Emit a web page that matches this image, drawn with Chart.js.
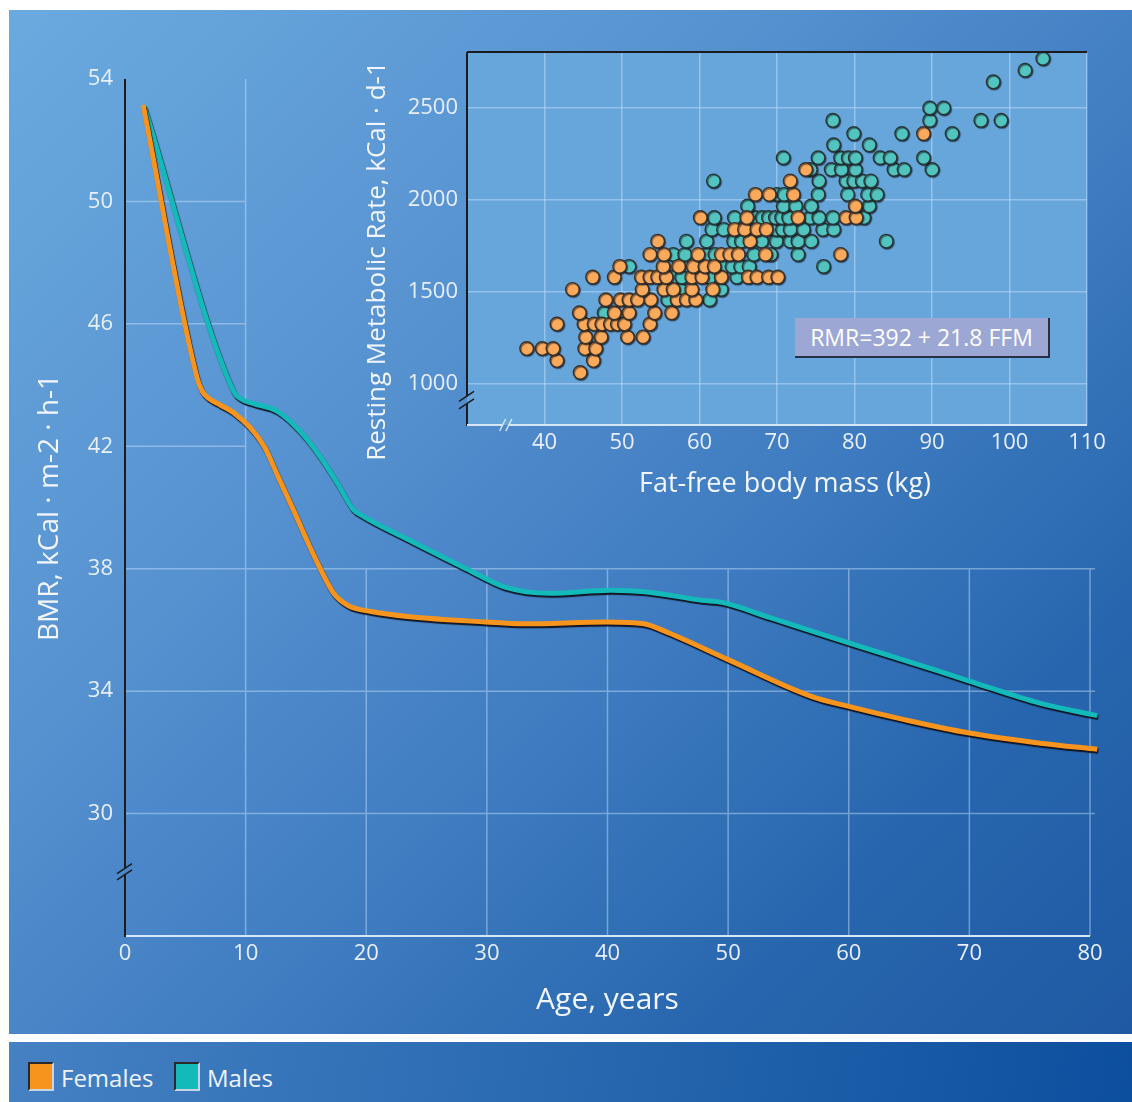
<!DOCTYPE html>
<html>
<head>
<meta charset="utf-8">
<script src="https://cdn.jsdelivr.net/npm/chart.js@4.4.1/dist/chart.umd.min.js"></script>
<style>
  html, body { margin: 0; padding: 0; background: #fff; }
  body { width: 1132px; height: 1102px; position: relative; overflow: hidden; font-family: "Open Sans", sans-serif; }
  #panel { position: absolute; left: 9px; top: 10px; width: 1123px; height: 1024px;
    background: linear-gradient(135deg, #6aaadf 0%, #5893d1 33%, #3d7abf 60%, #2766ae 80%, #1f59a3 100%); }
  #main { position: absolute; left: 0; top: 0; }
  #inset { position: absolute; left: 351px; top: 19px; }
  #formula { position: absolute; left: 786px; top: 308px; width: 253px; height: 38px; background: #9ca7d4;
    border-right: 2px solid #2b2f45; border-bottom: 2px solid #2b2f45; color: #fff; font-size: 23px;
    line-height: 38px; text-align: center; }
  #legend { position: absolute; left: 9px; top: 1042px; width: 1123px; height: 60px;
    background: linear-gradient(100deg, #4581c3 0%, #2b6bb2 45%, #0c4f9e 100%); }
  .key { position: absolute; top: 20px; width: 22px; height: 25px; border: 2px solid; border-color: #2a2a2a #c8d4e4 #c8d4e4 #2a2a2a; }
  .lab { position: absolute; top: 20px; font-size: 24px; line-height: 32px; color: #eef3fa; }
</style>
</head>
<body>
<div id="panel">
  <canvas id="main" width="1123" height="1024"></canvas>
  <canvas id="inset" width="772" height="481"></canvas>
  <div id="formula">RMR=392 + 21.8 FFM</div>
</div>
<div id="legend">
  <div class="key" style="left:19px;background:#f7941d"></div><div class="lab" style="left:52px">Females</div>
  <div class="key" style="left:165px;background:#14b9b9"></div><div class="lab" style="left:198px">Males</div>
</div>
<script>
// main chart: BMR by age
const ageTicks = [0, 10, 20, 30, 40, 50, 60, 70, 80];
const bmrTicks = [30, 34, 38, 42, 46, 50, 54];
const femaleAge = [1.5, 6.0, 6.4, 7.0, 7.9, 9.0, 10.4, 11.6, 12.7, 14.1, 15.7, 17.3, 18.5, 20.4, 23.6, 29.9, 33.0, 40.0, 43.0, 45.1, 50.0, 56.9, 60.0, 64.7, 70.0, 75.9, 80.6];
const femaleBmr = [53.15, 44.2, 43.8, 43.55, 43.35, 43.1, 42.6, 41.95, 41.0, 39.8, 38.4, 37.2, 36.8, 36.6, 36.43, 36.26, 36.2, 36.26, 36.2, 35.9, 35.03, 33.83, 33.5, 33.06, 32.63, 32.3, 32.1];
const maleAge = [1.6, 9.0, 9.6, 10.6, 12.6, 14.5, 16.2, 17.6, 18.9, 19.8, 23.6, 28.3, 31.5, 35.2, 40.3, 43.1, 47.8, 49.5, 53.5, 60.0, 64.7, 70.0, 75.9, 80.6];
const maleBmr = [53.1, 43.8, 43.55, 43.4, 43.15, 42.5, 41.65, 40.8, 39.95, 39.7, 38.93, 38.0, 37.4, 37.2, 37.3, 37.25, 36.97, 36.9, 36.4, 35.58, 35.0, 34.33, 33.6, 33.2];

// inset: resting metabolic rate vs fat-free mass
const ffmTicks = [40, 50, 60, 70, 80, 90, 100, 110];
const rmrTicks = [1000, 1500, 2000, 2500];
const femaleFfm = [44.6, 41.6, 46.3, 37.7, 39.7, 41.1, 45.2, 46.6, 45.3, 47.3, 50.7, 52.7,
  41.6, 45.1, 46.4, 47.4, 48.5, 49.4, 50.3, 53.6, 44.5, 49.0, 50.9, 54.2, 56.4,
  47.9, 49.8, 50.9, 52.0, 53.7, 57.1, 58.3, 59.5, 43.6, 52.6, 55.4, 56.6, 59.0, 61.7,
  46.2, 49.0, 52.5, 53.6, 54.6, 55.7, 59.0, 60.3, 62.8, 66.3, 67.4, 68.9, 70.1,
  49.7, 55.3, 57.3, 59.2, 60.7, 61.9, 53.6, 55.4, 59.8, 62.8, 63.9, 65.0, 68.5, 78.2,
  54.6, 66.5, 64.5, 65.8, 67.4, 68.6, 60.1, 66.1, 72.7, 78.9, 80.2, 80.1,
  67.2, 69.0, 72.1, 71.7, 73.7, 88.9];
const femaleRmr = [1060, 1125, 1125, 1190, 1190, 1190, 1190, 1190, 1253, 1253, 1253, 1253,
  1323, 1323, 1323, 1323, 1323, 1323, 1323, 1323, 1384, 1384, 1384, 1384, 1384,
  1455, 1455, 1455, 1455, 1455, 1455, 1455, 1455, 1511, 1511, 1511, 1511, 1511, 1511,
  1578, 1578, 1578, 1578, 1578, 1578, 1578, 1578, 1578, 1578, 1578, 1578, 1578,
  1636, 1636, 1636, 1636, 1636, 1636, 1701, 1701, 1701, 1701, 1701, 1701, 1701, 1701,
  1773, 1773, 1837, 1837, 1837, 1837, 1901, 1901, 1901, 1901, 1901, 1964,
  2027, 2027, 2027, 2100, 2162, 2357];
const maleFfm = [47.7, 55.9, 61.3, 57.5, 62.8, 56.6, 57.7, 61.3, 64.8,
  50.9, 63.1, 64.2, 65.3, 66.4, 76.0, 56.6, 58.1, 60.9, 62.0, 67.0, 69.2, 72.7,
  58.3, 60.9, 64.4, 65.4, 68.0, 69.9, 71.7, 72.7, 74.4, 84.1,
  61.6, 63.1, 69.9, 70.7, 71.7, 73.4, 75.9, 77.3,
  61.9, 64.5, 67.2, 68.1, 68.9, 69.8, 70.6, 71.5, 74.3, 75.4, 77.2, 81.2,
  66.2, 70.8, 72.4, 74.4, 81.9, 70.0, 70.9, 75.3, 79.1, 81.7, 82.9,
  61.8, 75.4, 78.9, 79.9, 81.0, 82.1, 74.3, 77.0, 78.3, 80.1, 85.1, 86.4, 90.0,
  70.8, 75.3, 78.2, 79.2, 80.1, 83.3, 84.6, 88.9, 77.3, 81.9, 79.9, 86.1, 92.6,
  77.2, 89.7, 96.3, 98.9, 89.7, 91.5, 97.9, 102.0, 104.3];
const maleRmr = [1384, 1455, 1455, 1511, 1511, 1578, 1578, 1578, 1578,
  1636, 1636, 1636, 1636, 1636, 1636, 1701, 1701, 1701, 1701, 1701, 1701, 1701,
  1773, 1773, 1773, 1773, 1773, 1773, 1773, 1773, 1773, 1773,
  1837, 1837, 1837, 1837, 1837, 1837, 1837, 1837,
  1901, 1901, 1901, 1901, 1901, 1901, 1901, 1901, 1901, 1901, 1901, 1901,
  1964, 1964, 1964, 1964, 1964, 2027, 2027, 2027, 2027, 2027, 2027,
  2100, 2100, 2100, 2100, 2100, 2100, 2162, 2162, 2162, 2162, 2162, 2162, 2162,
  2226, 2226, 2226, 2226, 2226, 2226, 2226, 2226, 2296, 2296, 2357, 2357, 2357,
  2429, 2429, 2429, 2429, 2496, 2496, 2638, 2701, 2765];

const FONT = '"Open Sans", sans-serif';
const tickColor = '#e8eff8', titleColor = '#f2f6fc';
const gridColor = 'rgba(205,228,252,0.45)';
const pairs = (xs, ys) => xs.map((x, i) => ({x: x, y: ys[i]}));
const plain = v => String(v);

const mainDecor = {
    id: 'mainDecor',
    beforeDatasetsDraw(chart) {
        const {ctx, chartArea: a, scales: {x, y}} = chart;
        ctx.save();
        ctx.strokeStyle = gridColor; ctx.lineWidth = 1.5;
        const x10 = x.getPixelForValue(10), y38 = y.getPixelForValue(38);
        ctx.beginPath();
        bmrTicks.forEach(v => {
            if (v === 54) return;
            const py = y.getPixelForValue(v);
            ctx.moveTo(a.left, py); ctx.lineTo(v <= 38 ? a.right + 5 : x10, py);
        });
        ageTicks.forEach(t => {
            if (t === 0) return;
            const px = x.getPixelForValue(t);
            ctx.moveTo(px, t === 10 ? a.top : y38); ctx.lineTo(px, a.bottom);
        });
        ctx.stroke();
        // x axis
        ctx.strokeStyle = '#d4e6f7'; ctx.lineWidth = 2;
        ctx.beginPath(); ctx.moveTo(a.left, a.bottom); ctx.lineTo(a.right, a.bottom); ctx.stroke();
        // y axis with a break
        const b1 = y.getPixelForValue(28.2), b2 = y.getPixelForValue(28.0);
        ctx.strokeStyle = '#1c1c1c'; ctx.lineWidth = 2;
        ctx.beginPath();
        ctx.moveTo(a.left, a.top); ctx.lineTo(a.left, b1);
        ctx.moveTo(a.left, b2); ctx.lineTo(a.left, a.bottom + 1);
        ctx.stroke();
        ctx.lineWidth = 1.5;
        ctx.beginPath();
        [b1, b2].forEach(py => { ctx.moveTo(a.left - 8, py + 5); ctx.lineTo(a.left + 7, py - 5); });
        ctx.stroke();
        ctx.restore();
    },
    beforeDatasetDraw(chart) {
        const ctx = chart.ctx;
        ctx.save();
        ctx.shadowColor = 'rgba(15,15,25,0.95)'; ctx.shadowOffsetX = 1; ctx.shadowOffsetY = 2; ctx.shadowBlur = 1;
    },
    afterDatasetDraw(chart) { chart.ctx.restore(); }
};

new Chart(document.getElementById('main'), {
    type: 'line',
    data: { datasets: [
        { label: 'Females', data: pairs(femaleAge, femaleBmr), borderColor: '#f7941d', borderWidth: 5,
          pointRadius: 0, cubicInterpolationMode: 'monotone', clip: false },
        { label: 'Males', data: pairs(maleAge, maleBmr), borderColor: '#14b9b9', borderWidth: 5,
          pointRadius: 0, cubicInterpolationMode: 'monotone', clip: false }
    ]},
    options: {
        responsive: false, animation: false, devicePixelRatio: 1,
        layout: { padding: { top: 69, right: 42, left: 0, bottom: 0 } },
        plugins: { legend: { display: false }, tooltip: { enabled: false } },
        scales: {
            x: { type: 'linear', min: 0, max: 80,
                 afterFit: s => { s.height = 98; },
                 afterBuildTicks: s => { s.ticks = ageTicks.map(v => ({value: v})); },
                 grid: { display: false, drawTicks: false }, border: { display: false },
                 ticks: { padding: 5, color: tickColor, font: { size: 22, family: FONT }, callback: plain },
                 title: { display: true, text: 'Age, years', color: titleColor,
                          font: { size: 30, family: FONT }, padding: { top: 0, bottom: 16 } } },
            y: { min: 26, max: 54,
                 afterFit: s => { s.width = 116; },
                 afterBuildTicks: s => { s.ticks = bmrTicks.map(v => ({value: v})); },
                 grid: { display: false, drawTicks: false }, border: { display: false },
                 ticks: { padding: 12, color: tickColor, font: { size: 22, family: FONT }, callback: plain },
                 title: { display: true, text: 'BMR, kCal · m-2 · h-1', color: titleColor,
                          font: { size: 28, family: FONT }, padding: { top: 24, bottom: 0 } } }
        }
    },
    plugins: [mainDecor]
});

const insetDecor = {
    id: 'insetDecor',
    beforeDraw(chart) {
        const {ctx, chartArea: a} = chart;
        ctx.save(); ctx.fillStyle = '#66a6db';
        ctx.fillRect(a.left, a.top, a.right - a.left, a.bottom - a.top);
        ctx.restore();
    },
    afterDraw(chart) {
        const {ctx, chartArea: a, scales: {x, y}} = chart;
        ctx.save();
        // top border
        ctx.strokeStyle = '#1c1c1c'; ctx.lineWidth = 2;
        ctx.beginPath(); ctx.moveTo(a.left, a.top); ctx.lineTo(a.right, a.top); ctx.stroke();
        // y axis with break
        const yb1 = y.getPixelForValue(930), yb2 = y.getPixelForValue(890);
        ctx.beginPath();
        ctx.moveTo(a.left, a.top); ctx.lineTo(a.left, yb1);
        ctx.moveTo(a.left, yb2); ctx.lineTo(a.left, a.bottom + 1);
        ctx.stroke();
        ctx.lineWidth = 1.5;
        ctx.beginPath();
        [yb1, yb2].forEach(py => { ctx.moveTo(a.left - 8, py + 5); ctx.lineTo(a.left + 7, py - 5); });
        ctx.stroke();
        // x axis with break
        const xb1 = x.getPixelForValue(34.6), xb2 = x.getPixelForValue(35.4);
        ctx.strokeStyle = '#d4e6f7'; ctx.lineWidth = 2;
        ctx.beginPath();
        ctx.moveTo(a.left, a.bottom); ctx.lineTo(xb1, a.bottom);
        ctx.moveTo(xb2, a.bottom); ctx.lineTo(a.right, a.bottom);
        ctx.stroke();
        ctx.lineWidth = 1.5;
        ctx.beginPath();
        [xb1, xb2].forEach(px => { ctx.moveTo(px - 3, a.bottom + 6); ctx.lineTo(px + 3, a.bottom - 6); });
        ctx.stroke();
        // axis titles
        ctx.fillStyle = titleColor; ctx.textAlign = 'center'; ctx.textBaseline = 'middle';
        ctx.font = '27px ' + FONT;
        ctx.fillText('Fat-free body mass (kg)', 425, 455);
        ctx.font = '26px ' + FONT;
        ctx.translate(18, 232); ctx.rotate(-Math.PI / 2);
        ctx.fillText('Resting Metabolic Rate, kCal · d-1', 0, 0);
        ctx.restore();
    },
    beforeDatasetDraw(chart) {
        const ctx = chart.ctx;
        ctx.save();
        ctx.shadowColor = 'rgba(20,20,30,0.6)'; ctx.shadowOffsetX = 1; ctx.shadowOffsetY = 1; ctx.shadowBlur = 1;
    },
    afterDatasetDraw(chart) { chart.ctx.restore(); }
};

new Chart(document.getElementById('inset'), {
    type: 'scatter',
    data: { datasets: [
        { label: 'Females', data: pairs(femaleFfm, femaleRmr), backgroundColor: '#fbaa5c',
          borderColor: '#3a3128', borderWidth: 1.4, pointRadius: 6.8 },
        { label: 'Males', data: pairs(maleFfm, maleRmr), backgroundColor: '#52c4bf',
          borderColor: '#263636', borderWidth: 1.4, pointRadius: 6.8 }
    ]},
    options: {
        responsive: false, animation: false, devicePixelRatio: 1,
        layout: { padding: { top: 23, right: 45, left: 0, bottom: 0 } },
        plugins: { legend: { display: false }, tooltip: { enabled: false } },
        scales: {
            x: { min: 30, max: 110,
                 afterFit: s => { s.height = 85; },
                 afterBuildTicks: s => { s.ticks = ffmTicks.map(v => ({value: v})); },
                 grid: { drawTicks: false, lineWidth: 1.5, color: gridColor },
                 border: { display: false },
                 ticks: { padding: 5, color: tickColor, font: { size: 22, family: FONT }, callback: plain } },
            y: { min: 775, max: 2800,
                 afterFit: s => { s.width = 107; },
                 afterBuildTicks: s => { s.ticks = rmrTicks.map(v => ({value: v})); },
                 grid: { drawTicks: false, lineWidth: 1.5, color: gridColor },
                 border: { display: false },
                 ticks: { padding: 9, color: tickColor, font: { size: 22, family: FONT }, callback: plain } }
        }
    },
    plugins: [insetDecor]
});
</script>
</body>
</html>
